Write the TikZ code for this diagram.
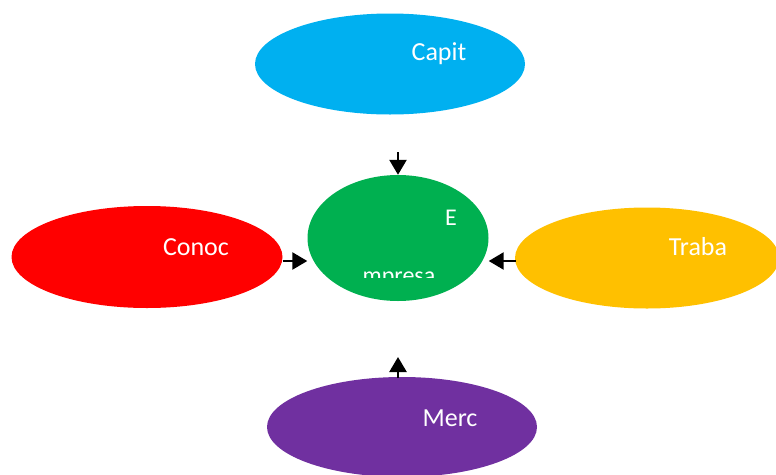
\documentclass[tikz,border=0pt]{standalone}
\usepackage{fontspec}
\setmainfont{Carlito}
\usetikzlibrary{shapes.geometric,arrows.meta}
\definecolor{capitblue}{HTML}{00B0F0}
\definecolor{empgreen}{HTML}{00B050}
\definecolor{conocred}{HTML}{FF0000}
\definecolor{trabaorange}{HTML}{FFC000}
\definecolor{mercpurple}{HTML}{7030A0}
\tikzset{
  blob/.style={ellipse, draw=none, inner sep=0pt},
  lbl/.style={text=white, inner sep=0pt, font=\fontsize{26}{30}\selectfont},
  feed/.style={line width=2.5pt, -{Triangle[length=15pt,width=17pt]}}
}
\begin{document}
\begin{tikzpicture}[x=1pt,y=-1pt]
  \useasboundingbox (0,0) rectangle (776,474);

  % Outer ellipses
  \node[blob, fill=capitblue, minimum width=270, minimum height=101] (capit) at (390,64) {};
  \node[blob, fill=conocred, minimum width=271, minimum height=102] (conoc) at (147,257) {};
  \node[blob, fill=trabaorange, minimum width=264, minimum height=101] (traba) at (647,258) {};
  \node[blob, fill=mercpurple, minimum width=270, minimum height=100] (merc) at (402,427) {};

  % Centre
  \node[blob, fill=empgreen, minimum width=181, minimum height=126] (empresa) at (398,238) {};

  % Texts
  \node[lbl] (capitT) at (439,54) {Capit};
  \node[lbl] (conocT) at (196,247) {Conoc};
  \node[lbl] (trabaT) at (698,247) {Traba};
  \node[lbl] (mercT) at (450,418) {Merc};
  \node[lbl, font=\fontsize{24}{28}\selectfont] (empE) at (451,218) {E};
  \begin{scope}
    \clip (340,255) rectangle (460,277);
    \node[lbl, font=\fontsize{24}{28}\selectfont, anchor=base] (empM) at (399,283) {mpresa};
  \end{scope}

  % Arrows
  \coordinate (topin) at (398,152);
  \coordinate (botin) at (398,378);
  \coordinate (leftin) at (283,261);
  \coordinate (rightin) at (516,261);
  \draw[feed] (topin) -- (empresa.north);
  \draw[feed] (leftin) -- (empresa.west |- leftin);
  \draw[feed] (rightin) -- (empresa.east |- rightin);
  \draw[feed] (botin) -- (empresa.south |- 0,357);
\end{tikzpicture}
\end{document}
